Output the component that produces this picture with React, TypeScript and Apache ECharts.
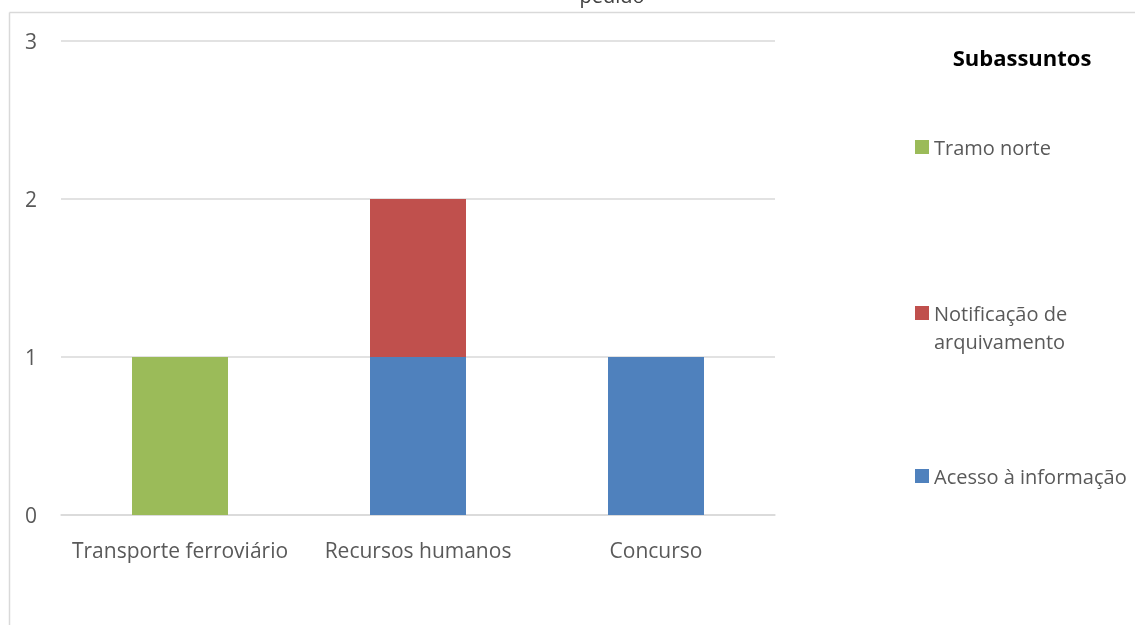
import React, { useEffect, useRef } from "react";
import * as echarts from "echarts";

const categories = ["Transporte ferroviário", "Recursos humanos", "Concurso"];
const acessoInformacao = [0, 1, 1];
const notificacaoArquivamento = [0, 1, 0];
const tramoNorte = [1, 0, 0];
const yTicks = [0, 1, 2, 3];

const FONT = "Open Sans";
const TXT = "#595959";

export default function App() {
  const ref = useRef<HTMLDivElement>(null);
  useEffect(() => {
    if (!ref.current) return;
    const chart = echarts.init(ref.current, null, { renderer: "svg" });
    const legendText = { color: TXT, fontFamily: FONT, fontSize: 20, lineHeight: 28 };
    chart.setOption({
      animation: false,
      textStyle: { fontFamily: FONT },
      graphic: [
        {
          type: "line",
          shape: { x1: 9.5, y1: 12.5, x2: 1140, y2: 12.5 },
          style: { stroke: "#D9D9D9", lineWidth: 1.5 },
          silent: true,
        },
        {
          type: "line",
          shape: { x1: 9.5, y1: 12.5, x2: 9.5, y2: 630 },
          style: { stroke: "#D9D9D9", lineWidth: 1.5 },
          silent: true,
        },
        {
          type: "text",
          x: 612,
          y: -5,
          style: { text: "pedido", align: "center", verticalAlign: "middle", fill: "#404040", fontFamily: FONT, fontSize: 20 },
        },
        {
          type: "text",
          x: 1022,
          y: 57,
          style: { text: "Subassuntos", align: "center", verticalAlign: "middle", fill: "#000", fontFamily: FONT, fontSize: 22, fontWeight: "bold" },
        },
        {
          type: "text",
          x: 934,
          y: 341,
          style: { text: "arquivamento", align: "left", verticalAlign: "middle", fill: TXT, fontFamily: FONT, fontSize: 20 },
        },
      ],
      grid: { left: 61, right: 1135 - 775, top: 41, bottom: 625 - 515, containLabel: false },
      xAxis: {
        type: "category",
        data: categories,
        axisLine: { lineStyle: { color: "#D9D9D9", width: 1.5 } },
        axisTick: { show: false },
        axisLabel: { color: TXT, fontFamily: FONT, fontSize: 21, margin: 24, interval: 0, hideOverlap: false },
      },
      yAxis: {
        type: "value",
        min: yTicks[0],
        max: yTicks[yTicks.length - 1],
        interval: 1,
        axisLine: { show: false },
        axisTick: { show: false },
        splitLine: { lineStyle: { color: "#D9D9D9", width: 1.5 } },
        axisLabel: { color: TXT, fontFamily: FONT, fontSize: 21, margin: 24 },
      },
      legend: [
        {
          data: ["Tramo norte"],
          left: 910,
          top: 128,
          itemWidth: 14,
          itemHeight: 14,
          icon: "rect",
          textStyle: legendText,
        },
        {
          data: ["Notificação de arquivamento"],
          left: 910,
          top: 294,
          itemWidth: 14,
          itemHeight: 14,
          icon: "rect",
          formatter: () => "Notificação de",
          textStyle: legendText,
        },
        {
          data: ["Acesso à informação"],
          left: 910,
          top: 457,
          itemWidth: 14,
          itemHeight: 14,
          icon: "rect",
          textStyle: legendText,
        },
      ],
      series: [
        {
          name: "Acesso à informação",
          type: "bar",
          stack: "s",
          data: acessoInformacao,
          barWidth: 96,
          itemStyle: { color: "#4F81BD" },
        },
        {
          name: "Notificação de arquivamento",
          type: "bar",
          stack: "s",
          data: notificacaoArquivamento,
          barWidth: 96,
          itemStyle: { color: "#C0504D" },
        },
        {
          name: "Tramo norte",
          type: "bar",
          stack: "s",
          data: tramoNorte,
          barWidth: 96,
          itemStyle: { color: "#9BBB59" },
        },
      ],
    });
    return () => chart.dispose();
  }, []);
  return <div ref={ref} style={{ position: "fixed", left: 0, top: 0, width: 1135, height: 625 }} />;
}
